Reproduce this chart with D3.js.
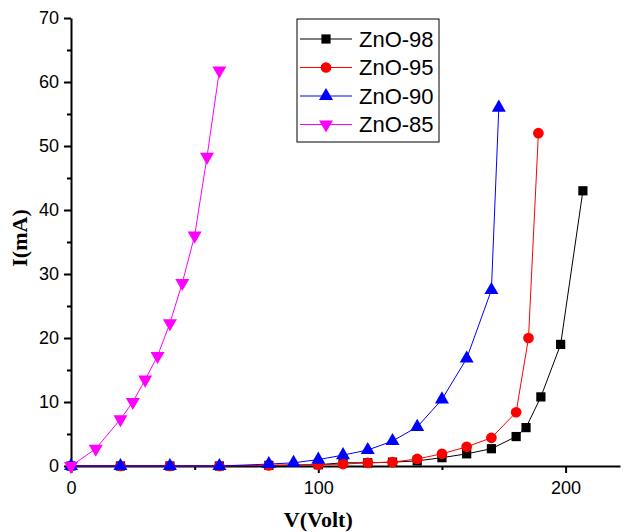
<!DOCTYPE html>
<html lang="en">
<head>
  <meta charset="UTF-8">
  <title>ZnO I-V</title>
  <style>
    html, body { margin: 0; padding: 0; background: #fff; }
    .tick text { font-family: "Liberation Sans", Arial, sans-serif; font-size: 18px; fill: #000; }
    .axis-title { font-family: "Liberation Serif", "Times New Roman", serif; font-size: 22px; font-weight: bold; }
    .legend text { font-family: "Liberation Sans", Arial, sans-serif; font-size: 22px; }
  </style>
</head>
<body>
  <svg class="chart"></svg>
  <script src="https://cdnjs.cloudflare.com/ajax/libs/d3/7.8.5/d3.min.js"></script>
  <script>
    // data
    const seriesNames = ["ZnO-98", "ZnO-95", "ZnO-90", "ZnO-85"];
    const volt98 = [0, 20, 40, 60, 80, 100, 110, 120, 130, 140, 150, 160, 170, 180, 184, 190, 198, 207];
    const curr98 = [0, 0, 0, 0, 0.1, 0.2, 0.5, 0.5, 0.6, 0.8, 1.3, 1.9, 2.7, 4.6, 6.0, 10.8, 19, 43];
    const volt95 = [0, 20, 40, 60, 80, 100, 110, 120, 130, 140, 150, 160, 170, 180, 185, 189];
    const curr95 = [0, 0, 0, 0, 0.1, 0.2, 0.3, 0.5, 0.6, 1.1, 1.9, 3.0, 4.4, 8.4, 20, 52];
    const volt90 = [0, 20, 40, 60, 80, 90, 100, 110, 120, 130, 140, 150, 160, 170, 173];
    const curr90 = [0, 0, 0, 0, 0.3, 0.5, 1.0, 1.7, 2.5, 3.9, 6.1, 10.4, 16.8, 27.5, 56];
    const volt85 = [0, 10, 20, 25, 30, 35, 40, 45, 50, 55, 60];
    const curr85 = [0, 2.7, 7.3, 10, 13.5, 17.2, 22.3, 28.6, 36, 48.3, 61.8];
    const xTicks = [0, 100, 200];
    const yTicks = [0, 10, 20, 30, 40, 50, 60, 70];

    const width = 624, height = 532;
    const margin = { left: 71, right: 4, top: 18, bottom: 66 };
    const colors = ["#000000", "#ff0000", "#0000ff", "#ff00ff"];
    const shapes = [d3.symbolSquare, d3.symbolCircle, d3.symbolTriangle, d3.symbolTriangle];
    const sizes = [85, 90, 85, 85];

    const series = [
      d3.zip(volt98, curr98),
      d3.zip(volt95, curr95),
      d3.zip(volt90, curr90),
      d3.zip(volt85, curr85)
    ];

    const svg = d3.select("svg.chart").attr("width", width).attr("height", height);

    const x = d3.scaleLinear().domain([0, 222]).range([margin.left, width - margin.right]);
    const y = d3.scaleLinear().domain([0, 70]).range([height - margin.bottom, margin.top]);

    // axes
    const xAxis = svg.append("g").attr("transform", `translate(0,${y(0)})`)
      .call(d3.axisBottom(x).tickValues(xTicks).tickSize(7).tickPadding(6).tickSizeOuter(0));
    svg.append("g").attr("transform", `translate(0,${y(0)})`)
      .call(d3.axisBottom(x).tickValues([50, 150]).tickSize(4).tickFormat("").tickSizeOuter(0))
      .select(".domain").remove();
    const yAxis = svg.append("g").attr("transform", `translate(${x(0)},0)`)
      .call(d3.axisLeft(y).tickValues(yTicks).tickSize(7).tickPadding(5).tickSizeOuter(0));
    svg.append("g").attr("transform", `translate(${x(0)},0)`)
      .call(d3.axisLeft(y).tickValues(d3.range(5, 70, 10)).tickSize(4).tickFormat("").tickSizeOuter(0))
      .select(".domain").remove();
    svg.selectAll(".domain, .tick line").attr("stroke", "#000").attr("stroke-width", 2);
    xAxis.selectAll(".tick text").attr("dy", "0.85em");

    svg.append("text").attr("class", "axis-title")
      .attr("x", x(100)).attr("y", 527).attr("text-anchor", "middle").text("V(Volt)");
    svg.append("text").attr("class", "axis-title")
      .attr("transform", `translate(27,${y(35) - 4}) rotate(-90)`)
      .attr("text-anchor", "middle").text("I(mA)");

    const line = d3.line().x(d => x(d[0])).y(d => y(d[1]));

    // lines first, then markers
    const order = [0, 1, 2, 3];
    order.forEach(i => {
      svg.append("path").datum(series[i])
        .attr("d", line).attr("fill", "none")
        .attr("stroke", colors[i]).attr("stroke-width", 1);
    });
    order.forEach(i => {
      const rot = i === 3 ? 180 : 0;
      svg.append("g").selectAll("path").data(series[i]).join("path")
        .attr("d", d3.symbol().type(shapes[i]).size(sizes[i]))
        .attr("transform", d => `translate(${x(d[0])},${y(d[1])}) rotate(${rot})`)
        .attr("fill", colors[i]);
    });

    // legend
    const legend = svg.append("g").attr("class", "legend");
    legend.append("rect").attr("x", 297).attr("y", 19).attr("width", 142).attr("height", 123)
      .attr("fill", "#fff").attr("stroke", "#000").attr("stroke-width", 1);
    seriesNames.forEach((name, i) => {
      const ly = 39 + i * 28.5;
      legend.append("line").attr("x1", 300).attr("x2", 352).attr("y1", ly).attr("y2", ly)
        .attr("stroke", colors[i]).attr("stroke-width", 1);
      legend.append("path")
        .attr("d", d3.symbol().type(shapes[i]).size(sizes[i])())
        .attr("transform", `translate(326,${ly}) rotate(${i === 3 ? 180 : 0})`)
        .attr("fill", colors[i]);
      legend.append("text").attr("x", 359).attr("y", ly).attr("dy", "0.35em").text(name);
    });
  </script>
</body>
</html>
